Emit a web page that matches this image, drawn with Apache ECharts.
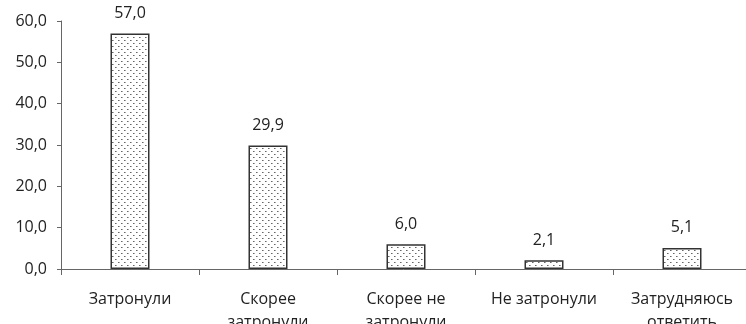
<!DOCTYPE html>
<html><head><meta charset="utf-8">
<script src="https://cdn.jsdelivr.net/npm/echarts@6/dist/echarts.min.js"></script>
<style>html,body{margin:0;padding:0;background:#fff}#c{width:746px;height:324px}</style>
</head><body><div id="c"></div>
<script>
const categories = ['Затронули', 'Скорее\nзатронули', 'Скорее не\nзатронули', 'Не затронули', 'Затрудняюсь\nответить'];
const values = [57.0, 29.9, 6.0, 2.1, 5.1];
const yTicks = [0, 10, 20, 30, 40, 50, 60];

const cv = document.createElement('canvas');
cv.width = 6; cv.height = 6;
const cx = cv.getContext('2d');
cx.fillStyle = '#fff'; cx.fillRect(0, 0, 6, 6);
cx.fillStyle = '#666';
cx.fillRect(1, 1, 1, 1);
cx.fillRect(4, 4, 1, 1);
cx.fillStyle = '#aaa';
cx.fillRect(2, 1, 1, 1);
cx.fillRect(5, 4, 1, 1);

const font = 'Open Sans';
const chart = echarts.init(document.getElementById('c'), null, {renderer: 'canvas'});
chart.setOption({
  animation: false,
  grid: {left: 61, right: -5, top: 21, bottom: 55, containLabel: false, outerBoundsMode: 'none'},
  xAxis: {
    type: 'category', data: categories, boundaryGap: true,
    axisLine: {lineStyle: {color: '#666', width: 1}},
    axisTick: {show: true, alignWithLabel: false, length: 6, lineStyle: {color: '#666'}},
    axisLabel: {color: '#222', fontFamily: font, fontSize: 16, margin: 19, lineHeight: 23, interval: 0}
  },
  yAxis: {
    type: 'value', min: yTicks[0], max: yTicks[yTicks.length - 1], interval: 10,
    splitLine: {show: false},
    axisLine: {show: true, lineStyle: {color: '#666', width: 1}},
    axisTick: {show: true, length: 4, lineStyle: {color: '#666'}},
    axisLabel: {color: '#222', fontFamily: font, fontSize: 16, margin: 14,
      formatter: v => v.toFixed(1).replace('.', ',')}
  },
  series: [{
    type: 'bar', data: values, barWidth: 39,
    itemStyle: {color: {image: cv, repeat: 'repeat'}, borderColor: '#333', borderWidth: 1.5},
    label: {show: true, position: 'top', distance: 12, color: '#222', fontFamily: font, fontSize: 16,
      formatter: p => p.value.toFixed(1).replace('.', ',')}
  }]
});
</script></body></html>
